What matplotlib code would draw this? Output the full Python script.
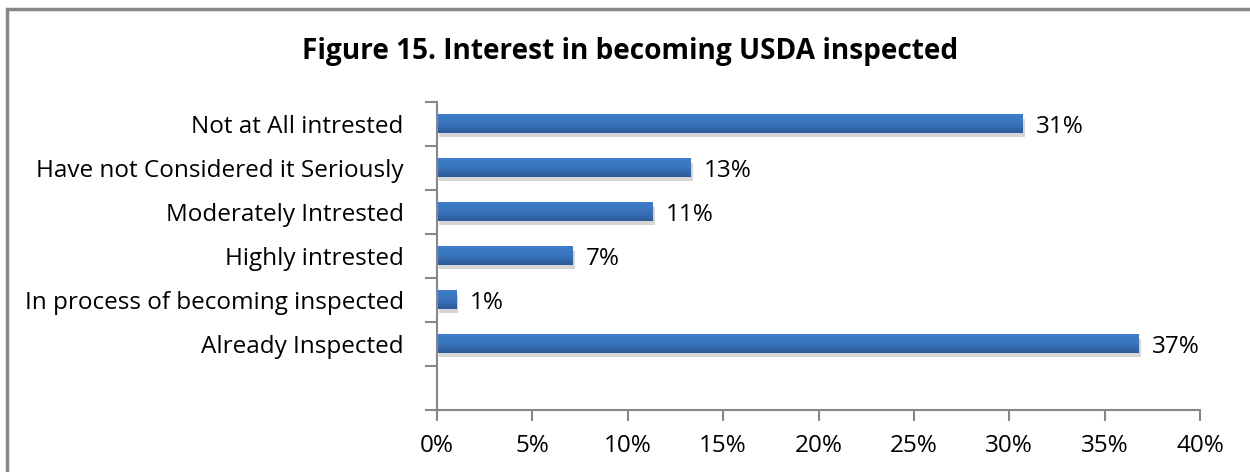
import numpy as np
import matplotlib.pyplot as plt
import matplotlib.patheffects as pe
from matplotlib.patches import Rectangle
from matplotlib.colors import LinearSegmentedColormap

categories = ["Not at All intrested", "Have not Considered it Seriously", "Moderately Intrested",
              "Highly intrested", "In process of becoming inspected", "Already Inspected"]
values = [30.7, 13.3, 11.3, 7.1, 1.0, 36.8]
labels = ["31%", "13%", "11%", "7%", "1%", "37%"]
xticks = [0, 5, 10, 15, 20, 25, 30, 35, 40]

plt.rcParams['font.family'] = ['Open Sans', 'DejaVu Sans']

fig = plt.figure(figsize=(12.5, 4.72), dpi=100)
ax = fig.add_axes([0.3496, 0.1314, 0.6104, 0.6525])

# border round the chart area (cut off at right and bottom)
fig.patches.append(Rectangle((7 / 1250, -0.1), 1.2, 0.1 + (1 - 9 / 472), transform=fig.transFigure,
                             fill=False, edgecolor="#878787", linewidth=2.5))

# slot 0 at the top, an empty slot at the bottom
pos = np.arange(len(categories))
h = 0.42
bars = ax.barh(pos, values, height=h, color="#3A72BE", edgecolor="none")
grad = LinearSegmentedColormap.from_list("bar", ["#3E7ECA", "#3A74BD", "#2D5B98"])
g = np.linspace(0, 1, 64).reshape(-1, 1)
for b in bars:
    b.set_path_effects([pe.SimplePatchShadow(offset=(1.5, -3), shadow_rgbFace="#888888", alpha=0.35)])
    x0, y0 = b.get_x(), b.get_y()
    # light at the top, dark at the bottom (y axis is inverted)
    ax.imshow(g, cmap=grad, aspect="auto", interpolation="bilinear",
              extent=[x0, x0 + b.get_width(), y0 + b.get_height(), y0], zorder=3)

for p, v, lab in zip(pos, values, labels):
    ax.text(v + 0.7, p, lab, va="center_baseline", ha="left", fontsize=17.5)

ax.set_ylim(len(categories) + 0.5, -0.5)
ax.set_xlim(0, 40)
ax.set_xticks(xticks)
ax.set_xticklabels([f"{t}%" for t in xticks], fontsize=17.5)
ax.set_yticks(pos)
ax.set_yticklabels(categories, fontsize=17.5)
ax.set_yticks(np.arange(-0.5, len(categories) + 1, 1), minor=True)
ax.tick_params(axis="y", which="major", length=0, pad=24)
ax.tick_params(axis="y", which="minor", length=9, width=1.5, color="#878787")
ax.tick_params(axis="x", length=8, width=1.5, color="#878787", pad=9)

for s in ["top", "right"]:
    ax.spines[s].set_visible(False)
for s in ["left", "bottom"]:
    ax.spines[s].set_color("#878787")
    ax.spines[s].set_linewidth(1.5)
    ax.spines[s].set_zorder(4)

fig.text(630 / 1250, 1 - 52 / 472, "Figure 15. Interest in becoming USDA inspected",
         ha="center", va="center", fontsize=20.2, fontweight="bold")

fig.savefig("out.png", dpi=100)
